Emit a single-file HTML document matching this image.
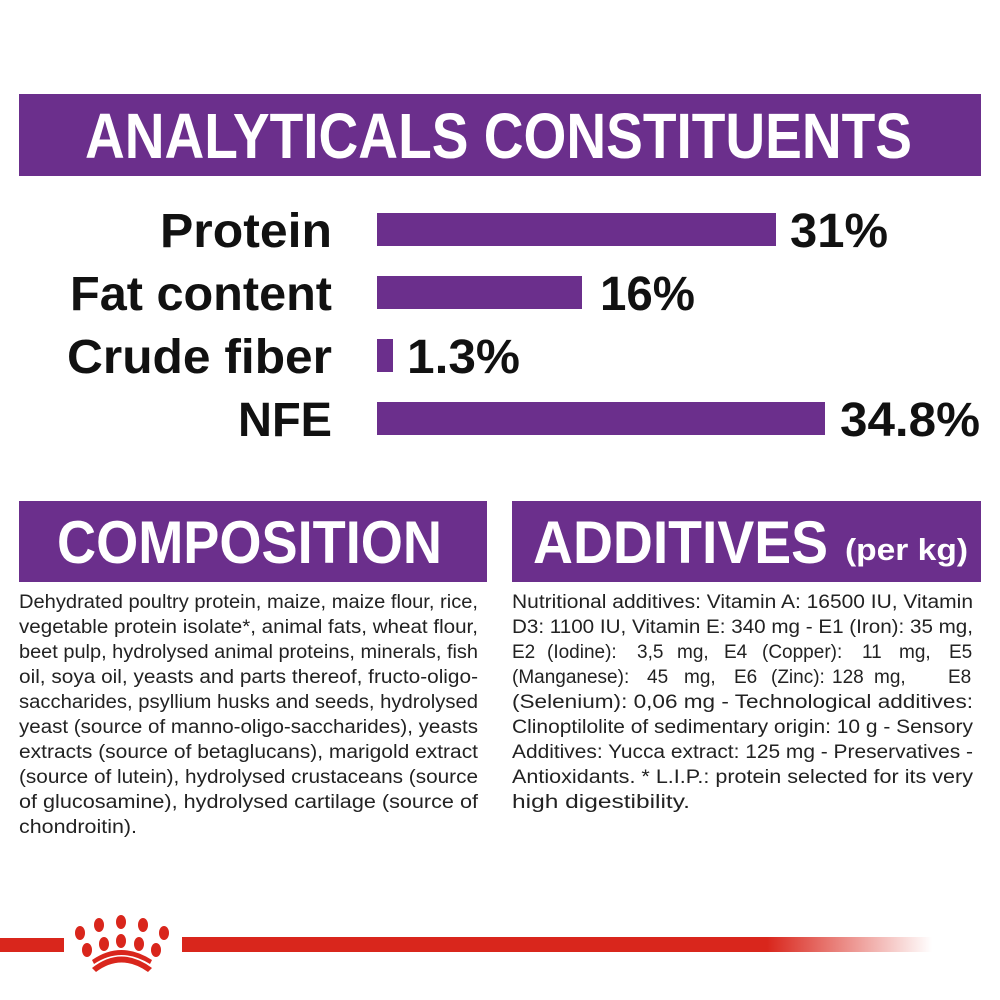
<!DOCTYPE html>
<html><head><meta charset="utf-8"><style>html,body{margin:0;padding:0;background:#fff}svg{display:block}</style></head>
<body>
<svg width="1000" height="1000" viewBox="0 0 1000 1000" xmlns="http://www.w3.org/2000/svg" font-family="Liberation Sans, sans-serif">
<rect x="19" y="94" width="962" height="82" fill="#6b2f8c"/>
<text x="85" y="158" font-size="64" font-weight="bold" fill="#fff" textLength="827" lengthAdjust="spacingAndGlyphs">ANALYTICALS CONSTITUENTS</text>
<g font-size="48" font-weight="bold" fill="#111">
<text x="160" y="247" textLength="172" lengthAdjust="spacingAndGlyphs">Protein</text>
<text x="70" y="310" textLength="262" lengthAdjust="spacingAndGlyphs">Fat content</text>
<text x="67" y="373" textLength="265" lengthAdjust="spacingAndGlyphs">Crude fiber</text>
<text x="238" y="436" textLength="94" lengthAdjust="spacingAndGlyphs">NFE</text>
<text x="790" y="247" textLength="98" lengthAdjust="spacingAndGlyphs">31%</text>
<text x="600" y="310" textLength="95" lengthAdjust="spacingAndGlyphs">16%</text>
<text x="407" y="373" textLength="113" lengthAdjust="spacingAndGlyphs">1.3%</text>
<text x="840" y="436" textLength="140" lengthAdjust="spacingAndGlyphs">34.8%</text>
</g>
<g fill="#6b2f8c">
<rect x="377" y="213" width="399" height="33"/>
<rect x="377" y="276" width="205" height="33"/>
<rect x="377" y="339" width="16" height="33"/>
<rect x="377" y="402" width="448" height="33"/>
<rect x="19" y="501" width="468" height="81"/>
<rect x="512" y="501" width="469" height="81"/>
</g>
<text x="57" y="563" font-size="60" font-weight="bold" fill="#fff" textLength="385" lengthAdjust="spacingAndGlyphs">COMPOSITION</text>
<text x="533" y="563" font-size="60" font-weight="bold" fill="#fff" textLength="295" lengthAdjust="spacingAndGlyphs">ADDITIVES</text>
<text x="845" y="560" font-size="31" font-weight="bold" fill="#fff" textLength="123" lengthAdjust="spacingAndGlyphs">(per kg)</text>
<g font-size="19" fill="#222">
<text x="19" y="608" textLength="459" lengthAdjust="spacingAndGlyphs">Dehydrated poultry protein, maize, maize flour, rice,</text>
<text x="19" y="633" textLength="459" lengthAdjust="spacingAndGlyphs">vegetable protein isolate*, animal fats, wheat flour,</text>
<text x="19" y="658" textLength="459" lengthAdjust="spacingAndGlyphs">beet pulp, hydrolysed animal proteins, minerals, fish</text>
<text x="19" y="683" textLength="459" lengthAdjust="spacingAndGlyphs">oil, soya oil, yeasts and parts thereof, fructo-oligo-</text>
<text x="19" y="708" textLength="459" lengthAdjust="spacingAndGlyphs">saccharides, psyllium husks and seeds, hydrolysed</text>
<text x="19" y="733" textLength="459" lengthAdjust="spacingAndGlyphs">yeast (source of manno-oligo-saccharides), yeasts</text>
<text x="19" y="758" textLength="459" lengthAdjust="spacingAndGlyphs">extracts (source of betaglucans), marigold extract</text>
<text x="19" y="783" textLength="459" lengthAdjust="spacingAndGlyphs">(source of lutein), hydrolysed crustaceans (source</text>
<text x="19" y="808" textLength="459" lengthAdjust="spacingAndGlyphs">of glucosamine), hydrolysed cartilage (source of</text>
<text x="19" y="833" textLength="118" lengthAdjust="spacingAndGlyphs">chondroitin).</text>
<text x="512" y="608" textLength="461" lengthAdjust="spacingAndGlyphs">Nutritional additives: Vitamin A: 16500 IU, Vitamin</text>
<text x="512" y="633" textLength="461" lengthAdjust="spacingAndGlyphs">D3: 1100 IU, Vitamin E: 340 mg - E1 (Iron): 35 mg,</text>
<text y="658"><tspan x="512">E2</tspan><tspan x="547">(Iodine):</tspan><tspan x="637">3,5</tspan><tspan x="677">mg,</tspan><tspan x="724">E4</tspan><tspan x="762">(Copper):</tspan><tspan x="862">11</tspan><tspan x="899">mg,</tspan><tspan x="949">E5</tspan></text>
<text y="683"><tspan x="512">(Manganese):</tspan><tspan x="647">45</tspan><tspan x="684">mg,</tspan><tspan x="734">E6</tspan><tspan x="771">(Zinc):</tspan><tspan x="832">128</tspan><tspan x="874">mg,</tspan><tspan x="948">E8</tspan></text>
<text x="512" y="708" textLength="461" lengthAdjust="spacingAndGlyphs">(Selenium): 0,06 mg - Technological additives:</text>
<text x="512" y="733" textLength="461" lengthAdjust="spacingAndGlyphs">Clinoptilolite of sedimentary origin: 10 g - Sensory</text>
<text x="512" y="758" textLength="461" lengthAdjust="spacingAndGlyphs">Additives: Yucca extract: 125 mg - Preservatives -</text>
<text x="512" y="783" textLength="461" lengthAdjust="spacingAndGlyphs">Antioxidants. * L.I.P.: protein selected for its very</text>
<text x="512" y="808" textLength="178" lengthAdjust="spacingAndGlyphs">high digestibility.</text>
</g>
<defs><linearGradient id="fade" x1="0" x2="1"><stop offset="0.78" stop-color="#d9261c"/><stop offset="1" stop-color="#d9261c" stop-opacity="0"/></linearGradient></defs>
<rect x="0" y="938" width="64" height="14" fill="#d9261c"/>
<rect x="182" y="937" width="750" height="15" fill="url(#fade)"/>
<g fill="#d9261c">
<ellipse cx="80" cy="933" rx="5" ry="7"/><ellipse cx="99" cy="925" rx="5" ry="7"/><ellipse cx="121" cy="922" rx="5" ry="7"/><ellipse cx="143" cy="925" rx="5" ry="7"/><ellipse cx="164" cy="933" rx="5" ry="7"/>
<ellipse cx="87" cy="950" rx="5" ry="7"/><ellipse cx="104" cy="944" rx="5" ry="7"/><ellipse cx="121" cy="941" rx="5" ry="7"/><ellipse cx="139" cy="944" rx="5" ry="7"/><ellipse cx="156" cy="950" rx="5" ry="7"/>
<path d="M92 968 Q121 945 152 968 L148 972 Q121 953 96 972 Z"/>
<path d="M92 960 Q121 940 152 960 L150 964 Q121 946 94 964 Z"/>
</g>
</svg>
</body></html>
